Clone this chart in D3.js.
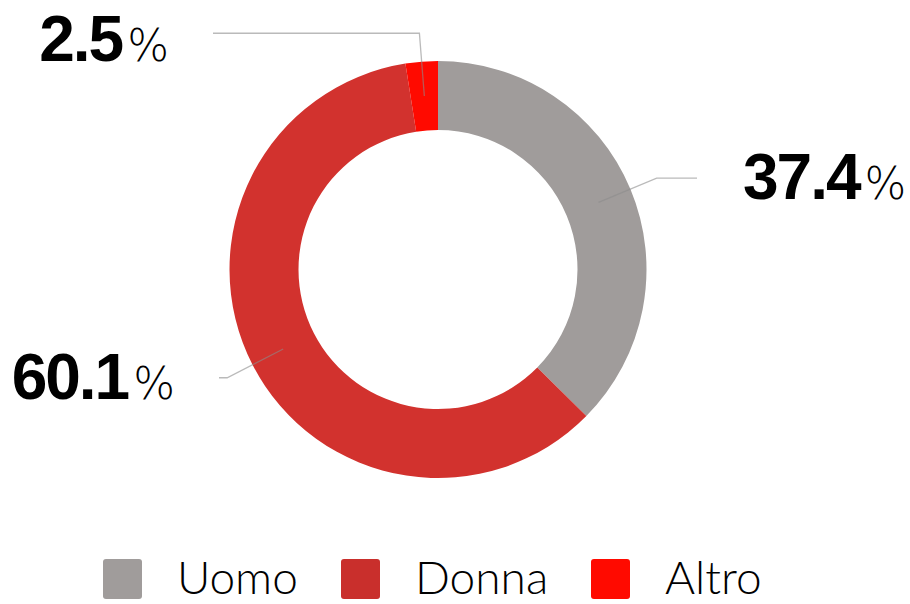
<!DOCTYPE html>
<html>
<head>
<meta charset="utf-8">
<script src="https://cdn.jsdelivr.net/npm/d3@7"></script>
<style>
  body { margin: 0; background: #fff; }
  svg { display: block; }
</style>
</head>
<body>
<svg id="chart"></svg>
<script>
// Data
const categories = ['Uomo', 'Donna', 'Altro'];
const values = [37.4, 60.1, 2.5];
const colors = ['#a09c9b', '#d2322e', '#ff0a00'];

const width = 910;
const height = 604;
const cx = 438, cy = 269.5;
const outerR = 208.5, innerR = 139.5;

const svg = d3.select('#chart')
    .attr('width', width)
    .attr('height', height);

const g = svg.append('g')
    .attr('transform', `translate(${cx},${cy})`);

// Pie, keep the order as given, start at 12 o'clock clockwise
const pie = d3.pie().sort(null).value(d => d.value);
const arcs = pie(categories.map((c, i) => ({name: c, value: values[i]})));

const arc = d3.arc().innerRadius(innerR).outerRadius(outerR);
const midArc = d3.arc().innerRadius((innerR + outerR) / 2).outerRadius((innerR + outerR) / 2);
const outArc = d3.arc().innerRadius(237).outerRadius(237);

g.selectAll('.slice')
    .data(arcs)
    .enter()
    .append('path')
    .attr('class', 'slice')
    .attr('d', arc)
    .attr('fill', (d, i) => colors[i]);

// Leader lines: end x of the horizontal bit, per slice
const lineEndX = [697 - cx, 219 - cx, 213 - cx];

g.selectAll('.leader')
    .data(arcs)
    .enter()
    .append('polyline')
    .attr('class', 'leader')
    .attr('points', (d, i) => {
        const a = midArc.centroid(d);
        const b = outArc.centroid(d);
        return [a, b, [lineEndX[i], b[1]]].map(p => p.join(',')).join(' ');
    })
    .attr('fill', 'none')
    .attr('stroke', '#8c8c8c')
    .attr('stroke-opacity', 0.6)
    .attr('stroke-width', 1.3);

// Value labels
const labels = g.selectAll('.label')
    .data(arcs)
    .enter()
    .append('text')
    .attr('class', 'label')
    .attr('x', (d, i) => {
        const right = lineEndX[i] > 0;
        return right ? lineEndX[i] + 46 : lineEndX[i] - 44;
    })
    .attr('y', (d, i) => outArc.centroid(d)[1] + (i === 2 ? 28 : 21))
    .attr('text-anchor', (d, i) => lineEndX[i] > 0 ? 'start' : 'end')
    .style('font-family', '"Liberation Sans", Arial, sans-serif')
    .style('fill', '#000');

labels.append('tspan')
    .style('font-size', '64px')
    .style('font-weight', 'bold')
    .style('letter-spacing', '-2px')
    .text(d => d.data.value.toFixed(1));

labels.append('tspan')
    .attr('dx', 5)
    .style('font-size', '44px')
    .style('font-family', '"DejaVu Sans", sans-serif')
    .style('font-weight', '300')
    .text('%');

// Legend
const legendX = d3.scaleOrdinal()
    .domain(categories)
    .range([103, 341, 591]);

const legend = svg.selectAll('.legend')
    .data(categories)
    .enter()
    .append('g')
    .attr('class', 'legend')
    .attr('transform', d => `translate(${legendX(d)},559)`);

legend.append('rect')
    .attr('width', 39)
    .attr('height', 40)
    .attr('rx', 3)
    .attr('fill', (d, i) => i === 1 ? '#c92f2c' : colors[i]);

legend.append('text')
    .attr('x', 74)
    .attr('y', 35)
    .style('font-family', 'Lato, "DejaVu Sans", sans-serif')
    .style('font-weight', '300')
    .style('font-size', '46px')
    .style('fill', '#000')
    .text(d => d);
</script>
</body>
</html>
